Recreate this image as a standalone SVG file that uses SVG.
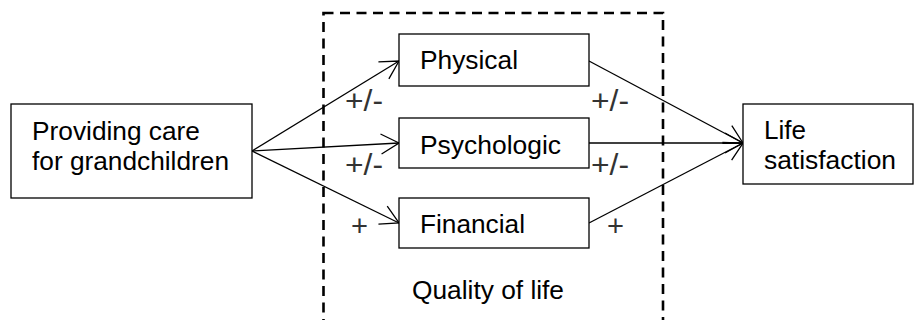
<svg xmlns="http://www.w3.org/2000/svg" width="914" height="320" viewBox="0 0 914 320">
<style>
.box{fill:#fff;stroke:#000;stroke-width:1.3}
.t{font-family:"Liberation Sans",Arial,sans-serif;font-size:25px;fill:#000}
.l{font-family:"Liberation Sans",Arial,sans-serif;font-size:29px;fill:#333}
.c{fill:none;stroke:#000;stroke-width:1.3}
.dash{fill:none;stroke:#000;stroke-width:2.6;stroke-dasharray:10 6.5}
</style>
<defs>
<marker id="arr" markerUnits="userSpaceOnUse" markerWidth="24" markerHeight="24" viewBox="-22 -12 24 24" refX="0" refY="0" orient="auto">
<path d="M-18,-10 L0,0 L-18,10" fill="none" stroke="#000" stroke-width="1.3"/>
</marker>
</defs>
<rect class="dash" x="323.5" y="13" width="339.5" height="330"/>
<g id="connectors">
<line class="c" x1="252" y1="151" x2="399" y2="61" marker-end="url(#arr)"/>
<line class="c" x1="252" y1="151" x2="399" y2="143" marker-end="url(#arr)"/>
<line class="c" x1="252" y1="151" x2="399" y2="223" marker-end="url(#arr)"/>
<line class="c" x1="589" y1="61" x2="743" y2="143" marker-end="url(#arr)"/>
<line class="c" x1="589" y1="143" x2="743" y2="143" marker-end="url(#arr)"/>
<line class="c" x1="589" y1="223" x2="743" y2="143" marker-end="url(#arr)"/>
<text class="l" x="345" y="111" textLength="38" lengthAdjust="spacingAndGlyphs">+/-</text>
<text class="l" x="345" y="175" textLength="38" lengthAdjust="spacingAndGlyphs">+/-</text>
<text class="l" x="351" y="236" textLength="17" lengthAdjust="spacingAndGlyphs">+</text>
<text class="l" x="591" y="111" textLength="38" lengthAdjust="spacingAndGlyphs">+/-</text>
<text class="l" x="591" y="175" textLength="38" lengthAdjust="spacingAndGlyphs">+/-</text>
<text class="l" x="607" y="236" textLength="17" lengthAdjust="spacingAndGlyphs">+</text>
</g>
<g id="care">
<rect class="box" x="11" y="104" width="241" height="94"/>
<text class="t" x="32" y="140" textLength="168" lengthAdjust="spacingAndGlyphs">Providing care</text>
<text class="t" x="32" y="170" textLength="197" lengthAdjust="spacingAndGlyphs">for grandchildren</text>
</g>
<g id="physical">
<rect class="box" x="399" y="34" width="190" height="52"/>
<text class="t" x="420" y="69" textLength="98" lengthAdjust="spacingAndGlyphs">Physical</text>
</g>
<g id="psychologic">
<rect class="box" x="399" y="118" width="190" height="50"/>
<text class="t" x="420" y="154" textLength="141" lengthAdjust="spacingAndGlyphs">Psychologic</text>
</g>
<g id="financial">
<rect class="box" x="399" y="198" width="190" height="50"/>
<text class="t" x="420" y="233" textLength="105" lengthAdjust="spacingAndGlyphs">Financial</text>
</g>
<g id="quality">
<text class="t" x="412" y="299" textLength="152" lengthAdjust="spacingAndGlyphs">Quality of life</text>
</g>
<g id="satisfaction">
<rect class="box" x="743" y="104" width="170" height="80"/>
<text class="t" x="764" y="139" textLength="42" lengthAdjust="spacingAndGlyphs">Life</text>
<text class="t" x="764" y="169" textLength="132" lengthAdjust="spacingAndGlyphs">satisfaction</text>
</g>
</svg>
